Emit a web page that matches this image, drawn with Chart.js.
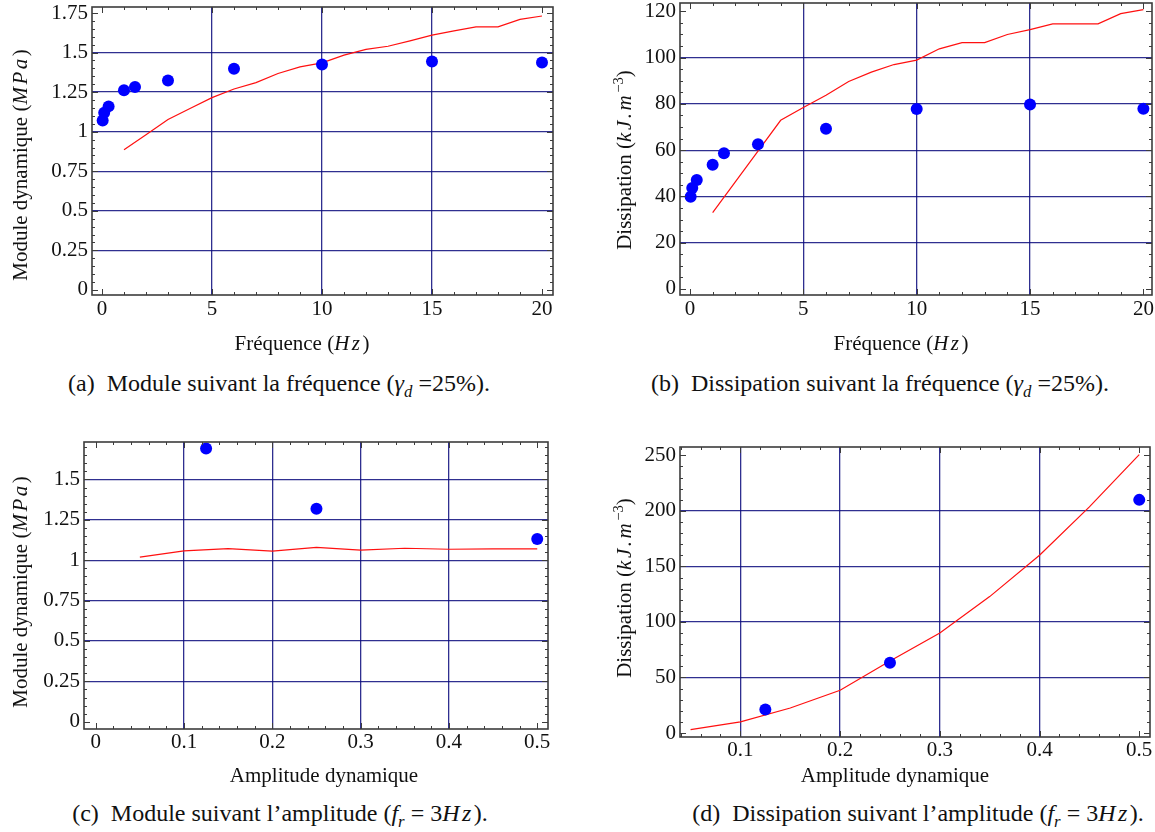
<!DOCTYPE html>
<html><head><meta charset="utf-8">
<script src="https://cdn.jsdelivr.net/npm/chart.js@4"></script>
<style>
html,body{margin:0;padding:0;background:#fff;width:1155px;height:832px;overflow:hidden;position:relative;font-family:"Liberation Serif","Times New Roman",serif;color:#111;}
canvas{position:absolute;}
.t{position:absolute;white-space:nowrap;font-size:21px;line-height:1;transform:translate(-50%,-50%);}
.cap{font-size:24px;}
.r{transform:translate(-50%,-50%) rotate(-90deg);}
i{font-style:italic;}
.m{letter-spacing:2.5px;}
.eq{margin:0 6px;}
sub,sup{font-size:70%;line-height:0;}
</style></head><body>
<canvas id="ca"></canvas><canvas id="cb"></canvas><canvas id="cc"></canvas><canvas id="cd"></canvas>

<div class="t r" style="left:20px;top:165px">Module dynamique (<i class="m">MPa</i>)</div>
<div class="t" style="left:302px;top:343px">Fréquence (<i class="m">Hz</i>)</div>
<div class="t cap" style="left:279px;top:383px">(a)&nbsp; Module suivant la fréquence (<i>γ<sub>d</sub></i> =25%).</div>

<div class="t r" style="left:624px;top:160px">Dissipation (<i class="m">kJ.m</i><sup>−3</sup>)</div>
<div class="t" style="left:901px;top:343px">Fréquence (<i class="m">Hz</i>)</div>
<div class="t cap" style="left:880px;top:383px">(b)&nbsp; Dissipation suivant la fréquence (<i>γ<sub>d</sub></i> =25%).</div>

<div class="t r" style="left:20px;top:592px">Module dynamique (<i class="m">MPa</i>)</div>
<div class="t" style="left:324px;top:775px">Amplitude dynamique</div>
<div class="t cap" style="left:280px;top:813px">(c)&nbsp; Module suivant l’amplitude (<i>f<sub>r</sub></i><span class="eq">=</span>3<i class="m">Hz</i>).</div>

<div class="t r" style="left:624px;top:588px">Dissipation (<i class="m">kJ.m</i><sup>−3</sup>)</div>
<div class="t" style="left:895px;top:775px">Amplitude dynamique</div>
<div class="t cap" style="left:918px;top:813px">(d)&nbsp; Dissipation suivant l’amplitude (<i>f<sub>r</sub></i><span class="eq">=</span>3<i class="m">Hz</i>).</div>

<script>
// ---- measured data ----
const freqPoints = [0.03, 0.1, 0.3, 1, 1.5, 3, 6, 10, 15, 20];
const moduleFreqPoints = [1.07, 1.12, 1.16, 1.262, 1.283, 1.323, 1.398, 1.425, 1.443, 1.438];
const dissipFreqPoints = [39.9, 43.6, 47.1, 53.7, 58.7, 62.6, 69.3, 77.8, 79.7, 77.9];

const freqModel = [1,2,3,4,5,6,7,8,9,10,11,12,13,14,15,16,17,18,19,20];
const moduleFreqModel = [0.886, 0.98, 1.077, 1.147, 1.215, 1.27, 1.31, 1.368, 1.41, 1.435, 1.484, 1.52, 1.54, 1.574, 1.61, 1.637, 1.662, 1.662, 1.71, 1.731];
const dissipFreqModel = [33, 46.3, 59.6, 72.9, 78.4, 83.7, 89.7, 93.7, 97.0, 98.9, 103.8, 106.5, 106.5, 110, 112.1, 114.6, 114.6, 114.6, 119, 120.7];

const ampPoints = [0.125, 0.25, 0.5];
const moduleAmpPoints = [1.692, 1.318, 1.132];
const dissipAmpPoints = [21.1, 63.3, 209.9];

const ampModel = [0.05, 0.1, 0.15, 0.2, 0.25, 0.3, 0.35, 0.4, 0.45, 0.5];
const moduleAmpModel = [1.019, 1.058, 1.072, 1.056, 1.079, 1.062, 1.074, 1.068, 1.07, 1.07];
const dissipAmpModel = [3, 10, 22.5, 38.5, 64.8, 90, 122.8, 160, 203.6, 250.6];

// ---- tick labels and grid lines ----
const freqTicks = [0, 5, 10, 15, 20];
const freqGrid = [5, 10, 15];
const moduleTicksA = [0, 0.25, 0.5, 0.75, 1, 1.25, 1.5, 1.75];
const moduleGridA = [0.25, 0.5, 0.75, 1, 1.25, 1.5];
const dissipTicksB = [0, 20, 40, 60, 80, 100, 120];
const dissipGridB = [20, 40, 60, 80, 100];
const ampTicksC = [0, 0.1, 0.2, 0.3, 0.4, 0.5];
const ampGrid = [0.1, 0.2, 0.3, 0.4];
const moduleTicksC = [0, 0.25, 0.5, 0.75, 1, 1.25, 1.5];
const moduleGridC = [0.25, 0.5, 0.75, 1, 1.25, 1.5];
const ampTicksD = [0.1, 0.2, 0.3, 0.4, 0.5];
const dissipTicksD = [0, 50, 100, 150, 200, 250];
const dissipGridD = [50, 100, 150, 200];

// ---- styling / layout ----
Chart.defaults.font.family = "'Liberation Serif','Times New Roman',serif";
Chart.defaults.font.size = 21;
Chart.defaults.color = '#111';
const GRID = 'rgba(10,10,125,0.85)';
const YW = 80, PT = 30, PR = 30, XH = 40;

const framePlugin = {
  id: 'frameTicks',
  afterDraw(chart, args, o) {
    const {ctx, chartArea: ca, scales: {x, y}} = chart;
    ctx.save();
    ctx.strokeStyle = '#3c3c3c';
    ctx.lineWidth = 1;
    ctx.beginPath();
    const isMaj = (v, m) => Math.abs(v / m - Math.round(v / m)) < 1e-6;
    let i0 = Math.ceil(x.min / o.xMinor - 1e-9), i1 = Math.floor(x.max / o.xMinor + 1e-9);
    for (let i = i0; i <= i1; i++) {
      const v = i * o.xMinor, len = isMaj(v, o.xMajor) ? 6 : 3;
      const px = Math.round(x.getPixelForValue(v)) + 0.5;
      ctx.moveTo(px, ca.bottom); ctx.lineTo(px, ca.bottom - len);
      ctx.moveTo(px, ca.top); ctx.lineTo(px, ca.top + len);
    }
    i0 = Math.ceil(y.min / o.yMinor - 1e-9); i1 = Math.floor(y.max / o.yMinor + 1e-9);
    for (let i = i0; i <= i1; i++) {
      const v = i * o.yMinor, len = isMaj(v, o.yMajor) ? 6 : 3;
      const py = Math.round(y.getPixelForValue(v)) + 0.5;
      ctx.moveTo(ca.left, py); ctx.lineTo(ca.left + len, py);
      ctx.moveTo(ca.right, py); ctx.lineTo(ca.right - len, py);
    }
    ctx.stroke();
    ctx.lineWidth = 1.6;
    ctx.strokeRect(ca.left, ca.top, ca.right - ca.left, ca.bottom - ca.top);
    ctx.restore();
  }
};

const fmt = v => String(+(+v).toFixed(2));
const pairs = (xs, ys) => xs.map((v, i) => ({x: v, y: ys[i]}));
const inList = (list, v) => list.some(g => Math.abs(g - v) < 1e-9);

function makeChart(id, area, cfg) {
  const cv = document.getElementById(id);
  const w = YW + (area.r - area.l) + PR, h = PT + (area.b - area.t) + XH;
  cv.width = w; cv.height = h;
  cv.style.left = (area.l - YW) + 'px';
  cv.style.top = (area.t - PT) + 'px';
  cv.style.width = w + 'px'; cv.style.height = h + 'px';
  new Chart(cv, {
    type: 'scatter',
    data: {
      datasets: [
        {data: pairs(cfg.px, cfg.py), showLine: false, pointRadius: 6, pointHoverRadius: 6,
         backgroundColor: '#0000ff', borderWidth: 0},
        {data: pairs(cfg.lx, cfg.ly), showLine: true, pointRadius: 0, borderColor: '#ff1010',
         borderWidth: 1.2, fill: false, tension: 0}
      ]
    },
    options: {
      responsive: false, animation: false, devicePixelRatio: 1,
      layout: {padding: {top: PT, right: PR, left: 0, bottom: 0}},
      plugins: {legend: {display: false}, tooltip: {enabled: false},
        frameTicks: {xMinor: cfg.xMinor, xMajor: cfg.xMajor, yMinor: cfg.yMinor, yMajor: cfg.yMajor}},
      scales: {
        x: {type: 'linear', min: cfg.xmin, max: cfg.xmax,
          afterBuildTicks: s => { s.ticks = cfg.xTicks.map(v => ({value: v})); },
          afterFit: s => { s.height = XH; },
          ticks: {callback: fmt, padding: cfg.xpad, maxRotation: 0, autoSkip: false, color: '#111'},
          grid: {drawTicks: false, lineWidth: 1.3,
            color: c => inList(cfg.xGrid, c.tick ? c.tick.value : NaN) ? GRID : 'rgba(0,0,0,0)'},
          border: {display: false}},
        y: {type: 'linear', min: cfg.ymin, max: cfg.ymax,
          afterBuildTicks: s => { s.ticks = cfg.yTicks.map(v => ({value: v})); },
          afterFit: s => { s.width = YW; },
          ticks: {callback: fmt, padding: 4, autoSkip: false, color: '#111'},
          grid: {drawTicks: false, lineWidth: 1.3,
            color: c => inList(cfg.yGrid, c.tick ? c.tick.value : NaN) ? GRID : 'rgba(0,0,0,0)'},
          border: {display: false}}
      }
    },
    plugins: [framePlugin]
  });
}

makeChart('ca', {l: 92, t: 7, r: 553, b: 295}, {
  px: freqPoints, py: moduleFreqPoints, lx: freqModel, ly: moduleFreqModel,
  xmin: -0.4545, xmax: 20.5, ymin: -0.032, ymax: 1.788, xpad: 2,
  xTicks: freqTicks, xGrid: freqGrid, yTicks: moduleTicksA, yGrid: moduleGridA,
  xMinor: 1, xMajor: 5, yMinor: 0.05, yMajor: 0.25});

makeChart('cb', {l: 680, t: 3, r: 1152, b: 295}, {
  px: freqPoints, py: dissipFreqPoints, lx: freqModel, ly: dissipFreqModel,
  xmin: -0.44, xmax: 20.38, ymin: -2.6, ymax: 123.6, xpad: 2,
  xTicks: freqTicks, xGrid: freqGrid, yTicks: dissipTicksB, yGrid: dissipGridB,
  xMinor: 1, xMajor: 5, yMinor: 5, yMajor: 20});

makeChart('cc', {l: 84, t: 442, r: 548, b: 729}, {
  px: ampPoints, py: moduleAmpPoints, lx: ampModel, ly: moduleAmpModel,
  xmin: -0.01325, xmax: 0.5122, ymin: -0.045, ymax: 1.732, xpad: 1,
  xTicks: ampTicksC, xGrid: ampGrid, yTicks: moduleTicksC, yGrid: moduleGridC,
  xMinor: 0.02, xMajor: 0.1, yMinor: 0.05, yMajor: 0.25});

makeChart('cd', {l: 680, t: 447, r: 1150, b: 737}, {
  px: ampPoints, py: dissipAmpPoints, lx: ampModel, ly: dissipAmpModel,
  xmin: 0.0394, xmax: 0.5108, ymin: -3.6, ymax: 257.5, xpad: 1,
  xTicks: ampTicksD, xGrid: ampGrid, yTicks: dissipTicksD, yGrid: dissipGridD,
  xMinor: 0.02, xMajor: 0.1, yMinor: 10, yMajor: 50});
</script>
</body></html>
